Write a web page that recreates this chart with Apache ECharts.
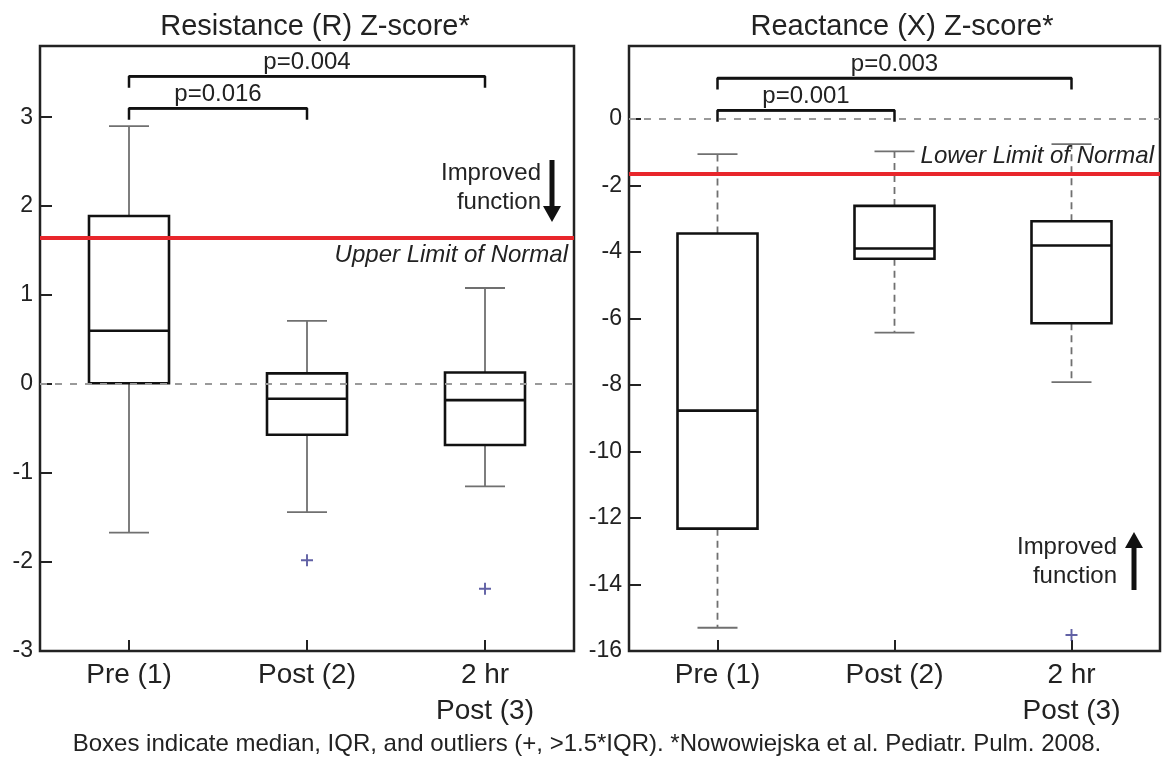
<!DOCTYPE html>
<html>
<head>
<meta charset="utf-8">
<script src="https://cdn.jsdelivr.net/npm/echarts@6/dist/echarts.min.js"></script>
<style>
  html, body { margin: 0; padding: 0; background: #fff; }
  #chart { width: 1162px; height: 762px; }
</style>
</head>
<body>
<div id="chart"></div>
<script>
var categories = ['Pre (1)', 'Post (2)', '2 hr\nPost (3)'];

// [min, Q1, median, Q3, max]
var resistanceBoxes = [
  [-1.67, 0.01, 0.60, 1.89, 2.90],
  [-1.44, -0.57, -0.165, 0.12, 0.71],
  [-1.15, -0.685, -0.18, 0.13, 1.08]
];
var resistanceOutliers = [[1, -1.98], [2, -2.30]];

var reactanceBoxes = [
  [-15.30, -12.32, -8.77, -3.44, -1.05],
  [-6.42, -4.20, -3.89, -2.61, -0.97],
  [-7.91, -6.14, -3.80, -3.07, -0.75]
];
var reactanceOutliers = [[2, -15.52]];

var resistanceTicks = [-3, -2, -1, 0, 1, 2, 3];
var reactanceTicks = [-16, -14, -12, -10, -8, -6, -4, -2, 0];

var resistanceLimit = 1.64;
var reactanceLimit = -1.64;

// comparison brackets: from / to category, bar height, end height, label
var resistanceBrackets = [
  [0, 1, 3.10, 2.97, 'p=0.016'],
  [0, 2, 3.46, 3.33, 'p=0.004']
];
var reactanceBrackets = [
  [0, 1, 0.27, -0.08, 'p=0.001'],
  [0, 2, 1.24, 0.89, 'p=0.003']
];

var FONT = '"Liberation Sans", Arial, sans-serif';
var INK = '#222';

function xAxis(grid) {
  return {
    type: 'category',
    gridIndex: grid,
    data: categories,
    axisLine: { show: false, onZero: false },
    axisTick: { show: true, inside: true, length: 11, alignWithLabel: true, lineStyle: { color: INK, width: 2 } },
    axisLabel: { color: INK, fontSize: 28, fontFamily: FONT, margin: 6, lineHeight: 36 },
    splitLine: { show: false }
  };
}

function yAxis(grid, min, max, ticks) {
  return {
    type: 'value',
    gridIndex: grid,
    min: min,
    max: max,
    axisLine: { show: false },
    axisTick: { show: true, inside: true, length: 12, lineStyle: { color: INK, width: 2 }, customValues: ticks },
    axisLabel: { color: INK, fontSize: 23, fontFamily: FONT, margin: 7, customValues: ticks },
    splitLine: { show: false }
  };
}

function whiskerItem(dashed) {
  return function(params, api) {
    var x = api.value(0);
    var pMin = api.coord([x, api.value(1)]);
    var pQ1 = api.coord([x, api.value(2)]);
    var pQ3 = api.coord([x, api.value(3)]);
    var pMax = api.coord([x, api.value(4)]);
    var cap = 20;
    var stem = { stroke: '#707070', lineWidth: 1.8, lineDash: dashed ? [7, 5] : null };
    var capStyle = { stroke: '#707070', lineWidth: 1.8 };
    return {
      type: 'group',
      children: [
        { type: 'line', shape: { x1: pQ3[0], y1: pQ3[1], x2: pMax[0], y2: pMax[1] }, style: stem },
        { type: 'line', shape: { x1: pQ1[0], y1: pQ1[1], x2: pMin[0], y2: pMin[1] }, style: stem },
        { type: 'line', shape: { x1: pMax[0] - cap, y1: pMax[1], x2: pMax[0] + cap, y2: pMax[1] }, style: capStyle },
        { type: 'line', shape: { x1: pMin[0] - cap, y1: pMin[1], x2: pMin[0] + cap, y2: pMin[1] }, style: capStyle }
      ]
    };
  };
}

function panelSeries(grid, boxes, outliers, limit, limitLabel, limitPos, brackets, dashed) {
  var out = [];
  // reference lines: zero and limit of normal
  out.push({
    type: 'line',
    xAxisIndex: grid,
    yAxisIndex: grid,
    data: [],
    z: 1,
    markLine: {
      silent: true,
      symbol: 'none',
      animation: false,
      data: [
        { yAxis: 0, lineStyle: { color: '#9a9a9a', width: 2, type: [7, 8] }, label: { show: false } },
        {
          yAxis: limit,
          lineStyle: { color: '#e8262b', width: 4, type: 'solid' },
          label: {
            show: true, formatter: limitLabel, position: limitPos, distance: [6, 5],
            fontStyle: 'italic', fontSize: 24, fontFamily: FONT, color: INK
          }
        }
      ]
    }
  });
  // whiskers
  out.push({
    type: 'custom',
    xAxisIndex: grid,
    yAxisIndex: grid,
    data: boxes.map(function(b, i) { return [i, b[0], b[1], b[3], b[4]]; }),
    renderItem: whiskerItem(dashed),
    z: 2,
    silent: true
  });
  // boxes
  out.push({
    type: 'boxplot',
    xAxisIndex: grid,
    yAxisIndex: grid,
    data: boxes.map(function(b) { return [b[1], b[1], b[2], b[3], b[3]]; }),
    boxWidth: [80, 80],
    z: 3,
    itemStyle: { color: 'rgba(255,255,255,0)', borderColor: '#111', borderWidth: 2.6 },
    emphasis: { disabled: true }
  });
  // outliers
  out.push({
    type: 'scatter',
    xAxisIndex: grid,
    yAxisIndex: grid,
    data: outliers,
    symbol: 'path://M4.2,0H5.8V4.2H10V5.8H5.8V10H4.2V5.8H0V4.2H4.2Z',
    symbolSize: 12,
    itemStyle: { color: '#3a3a8e' },
    z: 4
  });
  // brackets
  brackets.forEach(function(b) {
    out.push({
      type: 'line',
      xAxisIndex: grid,
      yAxisIndex: grid,
      data: [[b[0], b[3]], [b[0], b[2]], [b[1], b[2]], [b[1], b[3]]],
      symbol: 'none',
      lineStyle: { color: '#111', width: 2.5 },
      z: 5,
      markLine: {
        silent: true,
        symbol: 'none',
        animation: false,
        lineStyle: { color: '#111', width: 2.5, type: 'solid' },
        label: { show: true, position: 'insideMiddleTop', distance: 2, formatter: b[4], fontSize: 24, fontFamily: FONT, color: INK },
        data: [[{ coord: [b[0], b[2]] }, { coord: [b[1], b[2]] }]]
      }
    });
  });
  return out;
}

function arrow(x, tipY, tailY) {
  var dir = tipY > tailY ? 1 : -1;
  var baseY = tipY - dir * 16;
  return [
    { type: 'rect', shape: { x: x - 2.5, y: Math.min(tailY, baseY), width: 5, height: Math.abs(baseY - tailY) }, style: { fill: '#111' } },
    { type: 'polygon', shape: { points: [[x - 9, baseY], [x + 9, baseY], [x, tipY]] }, style: { fill: '#111' } }
  ];
}

function label(x, y, text) {
  return { type: 'text', x: x, y: y, style: { text: text, fill: INK, font: '24px ' + FONT, align: 'right', verticalAlign: 'middle' } };
}

var option = {
  animation: false,
  backgroundColor: '#fff',
  title: [
    { text: 'Resistance (R) Z-score*', left: 310, top: 7, textAlign: 'center', textStyle: { fontSize: 29, fontWeight: 'normal', color: INK, fontFamily: FONT } },
    { text: 'Reactance (X) Z-score*', left: 897, top: 7, textAlign: 'center', textStyle: { fontSize: 29, fontWeight: 'normal', color: INK, fontFamily: FONT } },
    { text: 'Boxes indicate median, IQR, and outliers (+, >1.5*IQR). *Nowowiejska et al. Pediatr. Pulm. 2008.', left: 582, top: 727, textAlign: 'center', textStyle: { fontSize: 24, fontWeight: 'normal', color: INK, fontFamily: FONT } }
  ],
  grid: [
    { left: 40, right: 588, top: 46, bottom: 111, show: true, borderColor: INK, borderWidth: 2.5, backgroundColor: 'rgba(0,0,0,0)' },
    { left: 629, right: 2, top: 46, bottom: 111, show: true, borderColor: INK, borderWidth: 2.5, backgroundColor: 'rgba(0,0,0,0)' }
  ],
  xAxis: [xAxis(0), xAxis(1)],
  yAxis: [yAxis(0, -3, 3.8, resistanceTicks), yAxis(1, -16, 2.2, reactanceTicks)],
  series: [].concat(
    panelSeries(0, resistanceBoxes, resistanceOutliers, resistanceLimit, 'Upper Limit of Normal', 'insideEndBottom', resistanceBrackets, false),
    panelSeries(1, reactanceBoxes, reactanceOutliers, reactanceLimit, 'Lower Limit of Normal', 'insideEndTop', reactanceBrackets, true)
  ),
  graphic: [].concat(
    [label(541, 173, 'Improved'), label(541, 202, 'function')],
    arrow(552, 222, 160),
    [label(1117, 547, 'Improved'), label(1117, 576, 'function')],
    arrow(1134, 532, 590)
  )
};

var chart = echarts.init(document.getElementById('chart'));
chart.setOption(option);
</script>
</body>
</html>
